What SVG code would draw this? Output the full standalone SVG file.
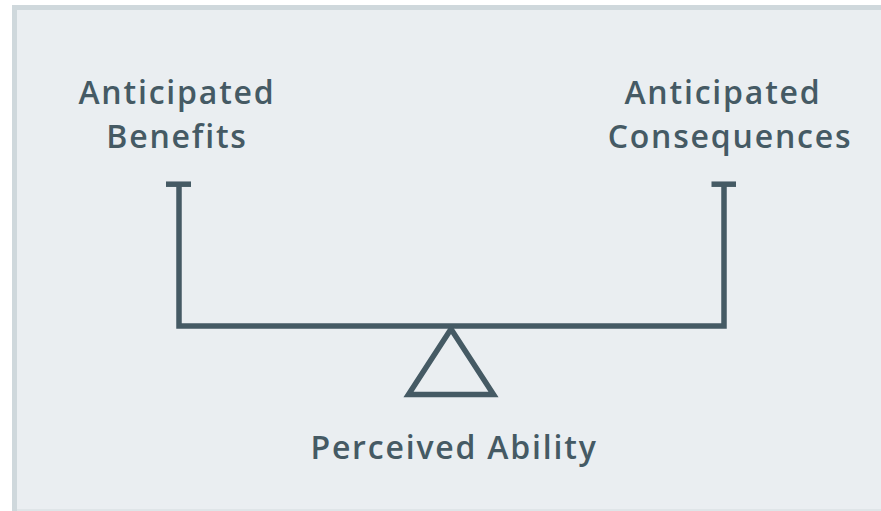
<svg xmlns="http://www.w3.org/2000/svg" width="881" height="511" viewBox="0 0 881 511">
  <style>
    .lbl { font-family: "Open Sans", "Liberation Sans", sans-serif; font-weight: 600; font-size: 32px; fill: #455a64; text-anchor: middle; letter-spacing: 1.8px; }
    .ln { stroke: #455a64; stroke-width: 5.5; fill: none; }
  </style>
  <rect x="0" y="0" width="881" height="511" fill="#ffffff"/>
  <rect x="12" y="5" width="869" height="506" fill="#cfd8dc"/>
  <rect x="17" y="10" width="864" height="501" fill="#dfe5e8"/>
  <rect x="17" y="10" width="864" height="499" fill="#eaeef1"/>
  <g id="benefits">
    <text class="lbl" x="177" y="104">Anticipated</text>
    <text class="lbl" x="177" y="148">Benefits</text>
  </g>
  <g id="consequences">
    <text class="lbl" x="723" y="104">Anticipated</text>
    <text class="lbl" x="730" y="148">Consequences</text>
  </g>
  <g id="ability">
    <polygon class="ln" points="451,329 408.5,394.5 493.5,394.5" stroke-linejoin="miter"/>
    <text class="lbl" x="454" y="459">Perceived Ability</text>
  </g>
  <g id="connectors">
    <line class="ln" x1="166" y1="184.2" x2="191" y2="184.2"/>
    <line class="ln" x1="711.5" y1="184.2" x2="736" y2="184.2"/>
    <polyline class="ln" points="179,184 179,326 724,326 724,184"/>
  </g>
</svg>
